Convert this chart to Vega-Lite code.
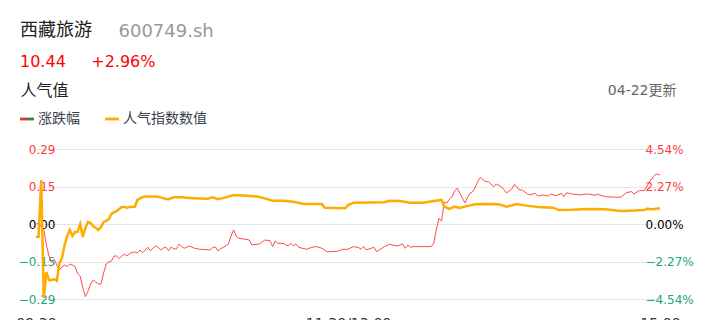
{
  "$schema": "https://vega.github.io/schema/vega-lite/v6.json",
  "autosize": {"type": "none"},
  "width": 588,
  "height": 150,
  "padding": {"left": 57, "top": 149, "right": 62, "bottom": 21},
  "background": "white",
  "config": {"view": {"stroke": null}},
  "title": {
    "text": "西藏旅游",
    "subtitle": "10.44\u00a0\u00a0\u00a0\u00a0\u00a0+2.96%",
    "anchor": "start",
    "frame": "group",
    "dx": -37,
    "offset": -48,
    "font": "Noto Sans CJK SC",
    "fontSize": 18,
    "fontWeight": "normal",
    "color": "#222222",
    "subtitleFont": "DejaVu Sans",
    "subtitleFontSize": 16,
    "subtitleColor": "#ff0000",
    "subtitlePadding": 14
  },
  "datasets": {
    "chg": [
      {"t": 0, "v": 0.0}, {"t": 1, "v": 0.04}, {"t": 3, "v": -0.36}, {"t": 4, "v": -1.27}, {"t": 5, "v": -1.94},
      {"t": 6, "v": -2.30}, {"t": 7, "v": -2.12}, {"t": 8, "v": -2.48}, {"t": 9, "v": -2.78}, {"t": 10, "v": -2.60},
      {"t": 11, "v": -2.48}, {"t": 12, "v": -2.58}, {"t": 13, "v": -2.42}, {"t": 14, "v": -2.48}, {"t": 15, "v": -2.58},
      {"t": 16, "v": -3.00}, {"t": 17, "v": -3.15}, {"t": 18, "v": -3.87}, {"t": 19, "v": -4.39}, {"t": 20, "v": -4.06},
      {"t": 21, "v": -3.63}, {"t": 22, "v": -3.39}, {"t": 23, "v": -3.51}, {"t": 24, "v": -3.63}, {"t": 25, "v": -3.63},
      {"t": 26, "v": -2.97}, {"t": 27, "v": -2.42}, {"t": 28, "v": -2.30}, {"t": 29, "v": -2.24}, {"t": 30, "v": -1.94},
      {"t": 31, "v": -1.94}, {"t": 32, "v": -2.09}, {"t": 33, "v": -1.94}, {"t": 34, "v": -1.82}, {"t": 35, "v": -1.94},
      {"t": 36, "v": -1.79}, {"t": 37, "v": -1.73}, {"t": 38, "v": -1.69}, {"t": 39, "v": -1.76}, {"t": 40, "v": -1.57},
      {"t": 41, "v": -1.74}, {"t": 42, "v": -1.57}, {"t": 43, "v": -1.41}, {"t": 44, "v": -1.62}, {"t": 45, "v": -1.45},
      {"t": 46, "v": -1.33}, {"t": 47, "v": -1.42}, {"t": 48, "v": -1.57}, {"t": 49, "v": -1.45}, {"t": 50, "v": -1.41},
      {"t": 51, "v": -1.62}, {"t": 52, "v": -1.39}, {"t": 53, "v": -1.51}, {"t": 54, "v": -1.51}, {"t": 55, "v": -1.21},
      {"t": 56, "v": -1.36}, {"t": 57, "v": -1.47}, {"t": 59, "v": -1.33}, {"t": 61, "v": -1.47}, {"t": 63, "v": -1.53},
      {"t": 67, "v": -1.57}, {"t": 68, "v": -1.42}, {"t": 69, "v": -1.39}, {"t": 70, "v": -1.63}, {"t": 71, "v": -1.50},
      {"t": 73, "v": -1.33}, {"t": 74, "v": -1.21}, {"t": 75, "v": -0.73}, {"t": 76, "v": -0.36}, {"t": 77, "v": -0.73},
      {"t": 78, "v": -0.87}, {"t": 80, "v": -0.91}, {"t": 82, "v": -0.97}, {"t": 83, "v": -1.27}, {"t": 86, "v": -1.21},
      {"t": 88, "v": -0.97}, {"t": 90, "v": -1.01}, {"t": 91, "v": -1.37}, {"t": 92, "v": -1.03}, {"t": 93, "v": -1.17},
      {"t": 95, "v": -1.17}, {"t": 97, "v": -1.33}, {"t": 98, "v": -1.17}, {"t": 99, "v": -1.33}, {"t": 100, "v": -1.21},
      {"t": 101, "v": -1.41}, {"t": 104, "v": -1.53}, {"t": 106, "v": -1.41}, {"t": 108, "v": -1.37}, {"t": 110, "v": -1.47},
      {"t": 112, "v": -1.68}, {"t": 116, "v": -1.65}, {"t": 118, "v": -1.53}, {"t": 120, "v": -1.53}, {"t": 122, "v": -1.37},
      {"t": 124, "v": -1.42}, {"t": 125, "v": -1.53}, {"t": 126, "v": -1.37}, {"t": 127, "v": -1.57}, {"t": 129, "v": -1.47},
      {"t": 130, "v": -1.41}, {"t": 131, "v": -1.68}, {"t": 133, "v": -1.47}, {"t": 134, "v": -1.37}, {"t": 136, "v": -1.23},
      {"t": 139, "v": -1.33}, {"t": 141, "v": -1.21}, {"t": 142, "v": -1.47}, {"t": 143, "v": -1.27}, {"t": 144, "v": -1.41},
      {"t": 145, "v": -1.37}, {"t": 152, "v": -1.37}, {"t": 153, "v": -1.15}, {"t": 154, "v": -0.30}, {"t": 155, "v": 0.33},
      {"t": 156, "v": 0.18}, {"t": 157, "v": 1.33}, {"t": 158, "v": 1.27}, {"t": 159, "v": 1.51}, {"t": 160, "v": 1.63},
      {"t": 161, "v": 2.00}, {"t": 162, "v": 2.16}, {"t": 163, "v": 1.88}, {"t": 164, "v": 1.57}, {"t": 165, "v": 1.27},
      {"t": 166, "v": 1.63}, {"t": 167, "v": 1.88}, {"t": 168, "v": 1.96}, {"t": 169, "v": 2.24}, {"t": 170, "v": 2.60},
      {"t": 171, "v": 2.83}, {"t": 172, "v": 2.66}, {"t": 173, "v": 2.56}, {"t": 174, "v": 2.56}, {"t": 176, "v": 2.26},
      {"t": 177, "v": 2.42}, {"t": 179, "v": 2.26}, {"t": 181, "v": 1.88}, {"t": 183, "v": 2.12}, {"t": 184, "v": 2.40},
      {"t": 186, "v": 2.06}, {"t": 187, "v": 2.06}, {"t": 189, "v": 1.82}, {"t": 190, "v": 1.76}, {"t": 192, "v": 1.86},
      {"t": 193, "v": 1.69}, {"t": 195, "v": 1.76}, {"t": 197, "v": 1.69}, {"t": 198, "v": 1.82}, {"t": 200, "v": 1.71},
      {"t": 202, "v": 1.86}, {"t": 203, "v": 1.65}, {"t": 204, "v": 1.89}, {"t": 206, "v": 1.82}, {"t": 209, "v": 1.76},
      {"t": 212, "v": 1.82}, {"t": 215, "v": 1.74}, {"t": 216, "v": 1.80}, {"t": 219, "v": 1.65}, {"t": 224, "v": 1.62},
      {"t": 225, "v": 1.62}, {"t": 227, "v": 1.89}, {"t": 229, "v": 1.96}, {"t": 230, "v": 1.82}, {"t": 232, "v": 2.02},
      {"t": 234, "v": 2.02}, {"t": 236, "v": 2.56}, {"t": 238, "v": 2.97}, {"t": 239, "v": 3.03}, {"t": 240, "v": 2.96}
    ],
    "hot": [
      {"t": 0, "v": -0.049}, {"t": 1, "v": -0.049}, {"t": 2, "v": 0.170}, {"t": 3, "v": -0.286}, {"t": 4, "v": -0.186},
      {"t": 5, "v": -0.217}, {"t": 6, "v": -0.217}, {"t": 7, "v": -0.213}, {"t": 8, "v": -0.220}, {"t": 9, "v": -0.151},
      {"t": 10, "v": -0.131}, {"t": 11, "v": -0.081}, {"t": 12, "v": -0.046}, {"t": 13, "v": -0.023}, {"t": 14, "v": -0.046},
      {"t": 15, "v": -0.031}, {"t": 16, "v": -0.030}, {"t": 17, "v": 0.000}, {"t": 18, "v": -0.050}, {"t": 19, "v": -0.015},
      {"t": 20, "v": 0.008}, {"t": 21, "v": 0.004}, {"t": 22, "v": -0.008}, {"t": 23, "v": -0.015}, {"t": 24, "v": -0.023},
      {"t": 25, "v": -0.012}, {"t": 26, "v": 0.008}, {"t": 27, "v": 0.012}, {"t": 28, "v": 0.019}, {"t": 29, "v": 0.039},
      {"t": 30, "v": 0.046}, {"t": 31, "v": 0.050}, {"t": 32, "v": 0.058}, {"t": 33, "v": 0.066}, {"t": 34, "v": 0.066},
      {"t": 35, "v": 0.062}, {"t": 36, "v": 0.066}, {"t": 38, "v": 0.067}, {"t": 39, "v": 0.093}, {"t": 40, "v": 0.099},
      {"t": 41, "v": 0.104}, {"t": 42, "v": 0.106}, {"t": 46, "v": 0.106}, {"t": 48, "v": 0.103}, {"t": 50, "v": 0.097},
      {"t": 51, "v": 0.096}, {"t": 53, "v": 0.103}, {"t": 56, "v": 0.103}, {"t": 59, "v": 0.101}, {"t": 63, "v": 0.099},
      {"t": 66, "v": 0.098}, {"t": 68, "v": 0.103}, {"t": 70, "v": 0.096}, {"t": 73, "v": 0.103}, {"t": 76, "v": 0.112},
      {"t": 81, "v": 0.109}, {"t": 85, "v": 0.106}, {"t": 88, "v": 0.099}, {"t": 91, "v": 0.090}, {"t": 95, "v": 0.090},
      {"t": 99, "v": 0.086}, {"t": 103, "v": 0.077}, {"t": 110, "v": 0.077}, {"t": 111, "v": 0.063}, {"t": 119, "v": 0.061},
      {"t": 120, "v": 0.073}, {"t": 122, "v": 0.082}, {"t": 134, "v": 0.084}, {"t": 136, "v": 0.090}, {"t": 140, "v": 0.089},
      {"t": 144, "v": 0.082}, {"t": 149, "v": 0.082}, {"t": 153, "v": 0.089}, {"t": 156, "v": 0.093}, {"t": 157, "v": 0.067},
      {"t": 159, "v": 0.058}, {"t": 161, "v": 0.067}, {"t": 163, "v": 0.062}, {"t": 166, "v": 0.070}, {"t": 169, "v": 0.076},
      {"t": 172, "v": 0.077}, {"t": 178, "v": 0.076}, {"t": 181, "v": 0.067}, {"t": 185, "v": 0.077}, {"t": 188, "v": 0.072},
      {"t": 193, "v": 0.066}, {"t": 199, "v": 0.063}, {"t": 201, "v": 0.054}, {"t": 206, "v": 0.055}, {"t": 212, "v": 0.058},
      {"t": 219, "v": 0.057}, {"t": 224, "v": 0.051}, {"t": 226, "v": 0.050}, {"t": 230, "v": 0.052}, {"t": 234, "v": 0.054},
      {"t": 235, "v": 0.059}, {"t": 237, "v": 0.057}, {"t": 240, "v": 0.061}
    ]
  },
  "layer": [
    {
      "data": {"name": "chg"},
      "mark": {"type": "line", "strokeWidth": 1, "interpolate": "linear"},
      "encoding": {
        "x": {
          "field": "t", "type": "quantitative",
          "scale": {"domain": [0, 240], "range": [-21, 603], "nice": false, "zero": false},
          "axis": {
            "orient": "bottom",
            "values": [0, 120, 240],
            "labelExpr": "datum.value == 0 ? '09:30' : datum.value == 120 ? '11:30/13:00' : '15:00'",
            "labelFlush": false, "labelOverlap": false,
            "labelFont": "DejaVu Sans", "labelFontSize": 14, "labelColor": "#333333",
            "labelPadding": 17, "ticks": false, "domain": false, "grid": false,
            "title": "600749.sh",
            "titleX": 61, "titleY": -268, "titleAlign": "left", "titleBaseline": "middle", "titleAnchor": null,
            "titleFont": "DejaVu Sans", "titleFontSize": 18, "titleFontWeight": "normal", "titleColor": "#999999"
          }
        },
        "y": {
          "field": "v", "type": "quantitative",
          "scale": {"domain": [-4.54, 4.54], "nice": false, "zero": false},
          "axis": {
            "orient": "right",
            "values": [-4.54, -2.27, 0, 2.27, 4.54],
            "labelExpr": "format(datum.value, '.2f') + '%'",
            "labelFont": "DejaVu Sans", "labelFontSize": 12,
            "labelColor": {"expr": "datum.value > 0 ? '#ff3d3d' : datum.value < 0 ? '#22a67b' : '#000000'"},
            "labelPadding": 0, "ticks": false, "domain": false, "grid": false,
            "title": "04-22更新",
            "titleAngle": 0, "titleX": 31, "titleY": -59, "titleAlign": "right", "titleBaseline": "middle",
            "titleFont": "DejaVu Sans, Noto Sans CJK SC", "titleFontSize": 14, "titleFontWeight": "normal", "titleColor": "#666666"
          }
        },
        "color": {
          "datum": "涨跌幅",
          "scale": {"domain": ["涨跌幅", "人气指数数值"], "range": ["#ff4a4a", "#ffab00"]},
          "legend": {
            "orient": "none", "legendX": -37, "legendY": -37, "direction": "horizontal", "title": null,
            "padding": 0, "columnPadding": 25, "labelOffset": 4,
            "symbolType": "M-1,-0.2L1,-0.2L1,0.2L-1,0.2Z", "symbolSize": 196, "symbolStrokeWidth": 0,
            "labelFont": "Noto Sans CJK SC", "labelFontSize": 14, "labelColor": "#3a3f4b",
            "encode": {
              "symbols": {
                "update": {
                  "fill": [
                    {"test": "datum.value === '涨跌幅'", "value": {"gradient": "linear", "stops": [
                      {"offset": 0, "color": "#e8342a"}, {"offset": 0.5, "color": "#e8342a"},
                      {"offset": 0.5, "color": "#2e8b3a"}, {"offset": 1, "color": "#2e8b3a"}]}},
                    {"value": "#ffa800"}
                  ],
                  "stroke": {"value": "transparent"},
                  "opacity": {"value": 1}
                }
              }
            }
          }
        }
      }
    },
    {
      "data": {"name": "hot"},
      "mark": {"type": "line", "strokeWidth": 2.5, "interpolate": "linear"},
      "encoding": {
        "x": {"field": "t", "type": "quantitative"},
        "y": {
          "field": "v", "type": "quantitative",
          "scale": {"domain": [-0.29, 0.29], "nice": false, "zero": false},
          "axis": {
            "orient": "left",
            "values": [-0.29, -0.145, 0, 0.145, 0.29],
            "labelExpr": "format(datum.value + (datum.value > 0 ? 1e-9 : datum.value < 0 ? -1e-9 : 0), '.2f')",
            "labelFont": "DejaVu Sans", "labelFontSize": 12,
            "labelColor": {"expr": "datum.value > 0 ? '#ff3d3d' : datum.value < 0 ? '#22a67b' : '#000000'"},
            "labelPadding": 2, "ticks": false, "domain": false,
            "grid": true, "gridColor": "#e2e5ee", "gridWidth": 1,
            "title": "人气值",
            "titleAngle": 0, "titleX": -37, "titleY": -59, "titleAlign": "left", "titleBaseline": "middle",
            "titleFont": "Noto Sans CJK SC", "titleFontSize": 16, "titleFontWeight": "normal", "titleColor": "#222222"
          }
        },
        "color": {"datum": "人气指数数值"}
      }
    }
  ],
  "resolve": {"scale": {"y": "independent"}}
}
